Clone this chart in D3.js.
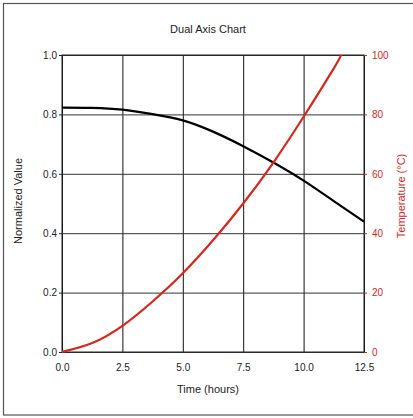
<!DOCTYPE html>
<html>
<head>
<meta charset="utf-8">
<script src="https://cdn.jsdelivr.net/npm/d3@7"></script>
<style>
  body { margin: 0; background: #fff; }
  svg { display: block; font-family: "Liberation Sans", Arial, sans-serif; }
</style>
</head>
<body>
<div id="chart"></div>
<script>
// chart text
const titleText = "Dual Axis Chart";
const xLabel = "Time (hours)";
const leftLabel = "Normalized Value";
const rightLabel = "Temperature (°C)";

// tick values
const xTicks = [0, 2.5, 5, 7.5, 10, 12.5];
const leftTicks = [0, 0.2, 0.4, 0.6, 0.8, 1.0];
const rightTicks = [0, 20, 40, 60, 80, 100];

// black series (left axis)
const blackX = [0, 1.25, 2.5, 3.75, 5, 6.25, 7.5, 8.75, 10, 11.25, 12.5];
const blackY = [0.823, 0.822, 0.816, 0.801, 0.780, 0.742, 0.693, 0.638, 0.577, 0.508, 0.439];

// red series (right axis)
const redX = [0, 1.25, 2.5, 3.75, 5, 6.25, 7.5, 8.75, 10, 11.25, 11.55];
const redY = [0, 3.0, 8.8, 17.0, 26.5, 37.6, 50.0, 63.8, 79.2, 95.5, 100];

const width = 413;
const height = 418;

const plot = { left: 62, right: 364, top: 55, bottom: 352 };
const red = "#d8261c";

const svg = d3.select("#chart").append("svg")
    .attr("width", width)
    .attr("height", height);

// outer frame
svg.append("rect")
    .attr("x", 3.5).attr("y", 3.5)
    .attr("width", width + 10).attr("height", 411.5)
    .attr("fill", "none")
    .attr("stroke", "#555")
    .attr("stroke-width", 1.2);

const x = d3.scaleLinear().domain([0, 12.5]).range([plot.left, plot.right]);
const yL = d3.scaleLinear().domain([0, 1]).range([plot.bottom, plot.top]);
const yR = d3.scaleLinear().domain([0, 100]).range([plot.bottom, plot.top]);

// gridlines
svg.append("g")
    .attr("transform", `translate(0,${plot.bottom})`)
    .call(d3.axisBottom(x).tickValues(xTicks).tickSize(-(plot.bottom - plot.top)).tickFormat(""))
    .call(g => g.select(".domain").remove())
    .selectAll("line").attr("stroke", "#111");

svg.append("g")
    .attr("transform", `translate(${plot.left},0)`)
    .call(d3.axisLeft(yL).tickValues(leftTicks).tickSize(-(plot.right - plot.left)).tickFormat(""))
    .call(g => g.select(".domain").remove())
    .selectAll("line").attr("stroke", "#333");

// plot frame
svg.append("rect")
    .attr("x", plot.left).attr("y", plot.top)
    .attr("width", plot.right - plot.left)
    .attr("height", plot.bottom - plot.top)
    .attr("fill", "none")
    .attr("stroke", "#222");

// axes
const xAxis = svg.append("g")
    .attr("transform", `translate(0,${plot.bottom})`)
    .call(d3.axisBottom(x).tickValues(xTicks).tickFormat(d3.format(".1f")).tickSize(0).tickPadding(12));
xAxis.select(".domain").remove();
xAxis.selectAll("text").attr("font-size", 10).attr("fill", "#222");

const lAxis = svg.append("g")
    .attr("transform", `translate(${plot.left},0)`)
    .call(d3.axisLeft(yL).tickValues(leftTicks).tickFormat(d3.format(".1f")).tickSize(3).tickPadding(2));
lAxis.select(".domain").remove();
lAxis.selectAll("line").attr("stroke", "#222");
lAxis.selectAll("text").attr("font-size", 10).attr("fill", "#222");

const rAxis = svg.append("g")
    .attr("transform", `translate(${plot.right},0)`)
    .call(d3.axisRight(yR).tickValues(rightTicks).tickFormat(d3.format("d")).tickSize(3).tickPadding(5));
rAxis.select(".domain").remove();
rAxis.selectAll("line").attr("stroke", red);
rAxis.selectAll("text").attr("font-size", 10).attr("fill", red);

// clip to plot
svg.append("defs").append("clipPath").attr("id", "clip")
    .append("rect")
    .attr("x", plot.left).attr("y", plot.top - 1)
    .attr("width", plot.right - plot.left + 1)
    .attr("height", plot.bottom - plot.top + 2);

const lineL = d3.line()
    .x(i => x(blackX[i]))
    .y(i => yL(blackY[i]))
    .curve(d3.curveNatural);

const lineR = d3.line()
    .x(i => x(redX[i]))
    .y(i => yR(redY[i]))
    .curve(d3.curveNatural);

const lines = svg.append("g").attr("clip-path", "url(#clip)");

lines.append("path")
    .attr("d", lineL(d3.range(blackX.length)))
    .attr("fill", "none")
    .attr("stroke", "#000")
    .attr("stroke-width", 2.2);

lines.append("path")
    .attr("d", lineR(d3.range(redX.length)))
    .attr("fill", "none")
    .attr("stroke", red)
    .attr("stroke-width", 2.2);

// titles
svg.append("text")
    .attr("x", 208).attr("y", 33)
    .attr("text-anchor", "middle")
    .attr("font-size", 11)
    .attr("fill", "#222")
    .text(titleText);

svg.append("text")
    .attr("x", 208).attr("y", 393)
    .attr("text-anchor", "middle")
    .attr("font-size", 11)
    .attr("fill", "#222")
    .text(xLabel);

svg.append("text")
    .attr("transform", `translate(22,201) rotate(-90)`)
    .attr("text-anchor", "middle")
    .attr("font-size", 11)
    .attr("fill", "#222")
    .text(leftLabel);

svg.append("text")
    .attr("transform", `translate(405,196) rotate(-90)`)
    .attr("text-anchor", "middle")
    .attr("font-size", 11)
    .attr("fill", red)
    .text(rightLabel);
</script>
</body>
</html>
